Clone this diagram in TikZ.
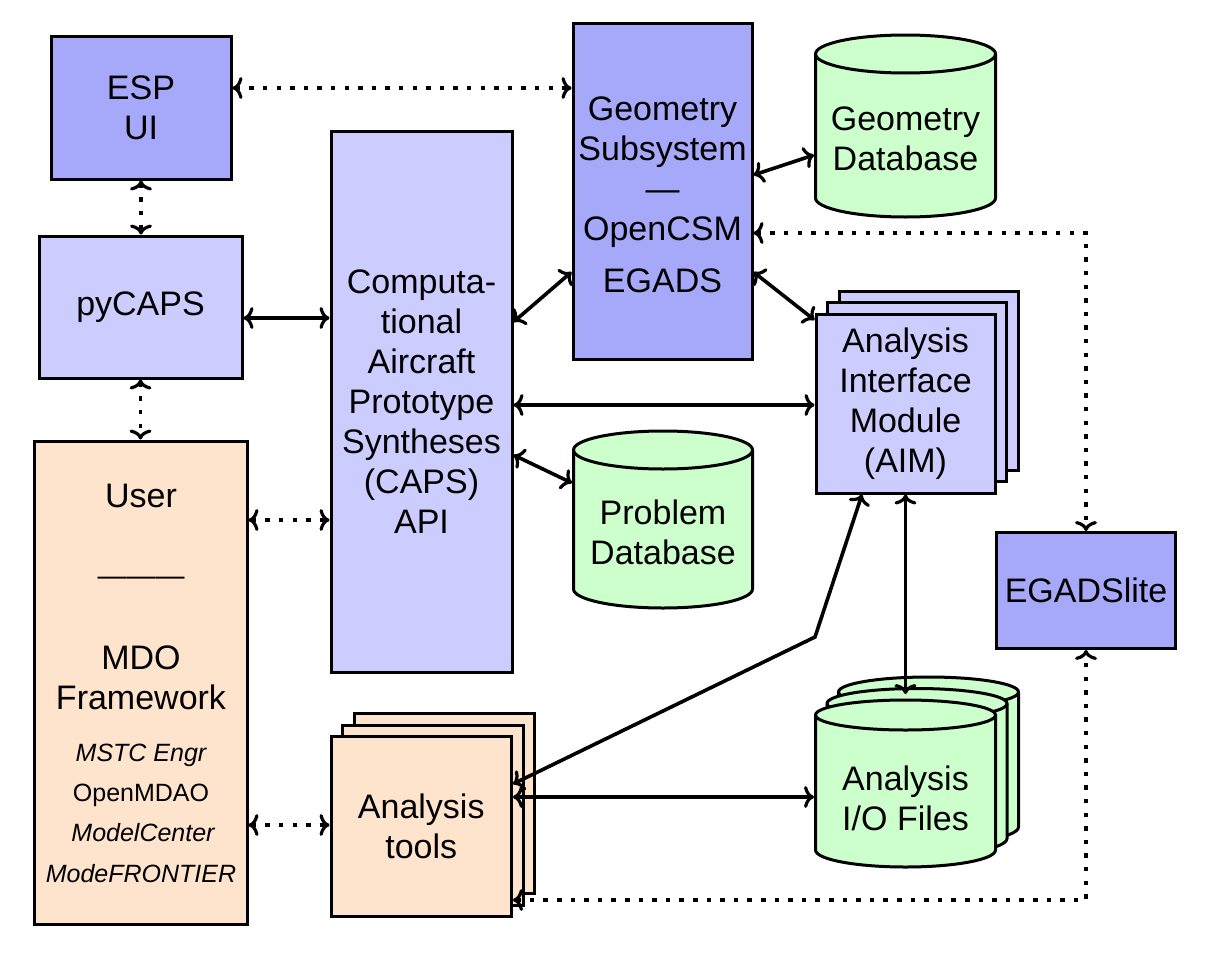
\documentclass[tikz,border=0pt]{standalone}
\usepackage{fontspec}
\setmainfont{Liberation Sans}
\usetikzlibrary{arrows.meta}
\definecolor{dblue}{RGB}{166,168,250}
\definecolor{lblue}{RGB}{204,204,255}
\definecolor{lorange}{RGB}{254,228,204}
\definecolor{lgreen}{RGB}{204,255,204}
\newcommand{\mycyl}[6]{%
  \pgfmathsetmacro\myrx{(#2-#1)/2}%
  \filldraw[line width=3pt, fill=lgreen] (#1,#3) -- (#1,#4)
    arc[start angle=180,end angle=360,x radius=\myrx pt,y radius=#6pt] -- (#2,#3)
    arc[start angle=0,end angle=180,x radius=\myrx pt,y radius=#5pt] -- cycle;
  \draw[line width=3pt] (#1,#3) arc[start angle=180,end angle=360,x radius=\myrx pt,y radius=#5pt];
}
\begin{document}
\begin{tikzpicture}[x=1pt,y=-1pt,
  every node/.style={font=\fontsize{34}{40}\selectfont, align=center, inner sep=0pt},
  box/.style={draw, line width=3pt},
  cyltext/.style={minimum width=180pt, minimum height=100pt, outer sep=1.5pt},
  small/.style={font=\fontsize{25}{30}\selectfont},
  smallit/.style={font=\fontsize{25}{30}\selectfont\itshape},
  sarr/.style={line width=3.6pt, >={Computer Modern Rightarrow[length=10pt,width=22pt,line width=3.2pt]}, <->},
  darr/.style={sarr, dash pattern=on 4.5pt off 9.1pt}
]
\useasboundingbox (0,0) rectangle (1207,953);

% left column
\node[box, fill=dblue, minimum width=180pt, minimum height=143pt] (esp) at (141,107.5) {ESP\\UI};
\node[box, fill=lblue, minimum width=203pt, minimum height=142pt] (pycaps) at (140.5,307) {pyCAPS};
\node[box, fill=lorange, minimum width=213pt, minimum height=483pt] (user) at (140.5,682.5) {};
\node[anchor=base] (ut1) at (141,507) {User};
\node[anchor=base, font=\fontsize{29}{35}\selectfont] (ut2) at (141,585) {———};
\node[anchor=base] (ut3) at (141,669) {MDO};
\node[anchor=base] (ut4) at (141,709) {Framework};
\node[anchor=base, smallit] (ut5) at (141,761) {MSTC Engr};
\node[anchor=base, small] (ut6) at (141,801) {OpenMDAO};
\node[anchor=base, smallit] (ut7) at (143,841) {ModelCenter};
\node[anchor=base, smallit] (ut8) at (141,882) {ModeFRONTIER};

% CAPS API
\node[box, fill=lblue, minimum width=181pt, minimum height=541pt] (caps) at (421.5,401.5)
  {Computa-\\tional\\Aircraft\\Prototype\\Syntheses\\(CAPS)\\API};

% Geometry subsystem
\node[box, fill=dblue, minimum width=179pt, minimum height=336pt] (geom) at (662.5,191)
  {\rule{0pt}{0pt}\\[-9pt]Geometry\\Subsystem\\—\\OpenCSM\\[12pt]EGADS};

% Geometry database
\mycyl{815.5}{995.5}{54}{198}{19}{19}
\node[cyltext] (gdb) at (905.5,139) {Geometry\\Database};

% AIM stack
\filldraw[box, fill=lblue] (839,291) rectangle (1018,470);
\filldraw[box, fill=lblue] (827.5,302.5) rectangle (1006.5,481.5);
\node[box, fill=lblue, minimum width=179pt, minimum height=179pt] (aim) at (905.5,403.5)
  {Analysis\\Interface\\Module\\(AIM)};

% Problem database
\mycyl{573.5}{752.5}{450}{589}{19}{19}
\node[cyltext, minimum width=179pt] (pdb) at (663,532) {Problem\\Database};

% EGADSlite
\node[box, fill=dblue, minimum width=179pt, minimum height=116pt] (egl) at (1086,590.5) {EGADSlite};

% Analysis tools stack
\filldraw[box, fill=lorange] (354,713.5) rectangle (534.5,893.5);
\filldraw[box, fill=lorange] (342.5,725) rectangle (523,905);
\node[box, fill=lorange, minimum width=180.5pt, minimum height=180pt] (tools) at (421.25,826.5)
  {Analysis\\tools};

% Analysis I/O files stack
\mycyl{838.5}{1018.5}{692}{827}{15}{17}
\mycyl{827}{1007}{703.5}{838.5}{15}{17}
\mycyl{815.5}{995.5}{715}{850}{15}{17}
\node[cyltext] (iof) at (905.5,798) {Analysis\\I/O Files};

% connectors
\coordinate (aimio) at (905.5,694);
\coordinate (bend) at (815,637);
\draw[darr] (esp.east |- 0,88) -- (geom.west |- 0,88);
\draw[darr] (esp.south) -- (esp.south |- pycaps.north);
\draw[sarr] (pycaps.east |- 0,318) -- (caps.west |- 0,318);
\draw[darr] (pycaps.south) -- (pycaps.south |- user.north);
\draw[darr] (user.east |- 0,520) -- (caps.west |- 0,520);
\draw[darr] (user.east |- 0,825) -- (tools.west |- 0,825);
\draw[sarr] (caps.east |- 0,322) -- (geom.west |- 0,272);
\draw[sarr] (geom.east |- 0,175) -- (gdb.west |- 0,155);
\draw[sarr] (geom.east |- 0,272) -- (aim.west |- 0,320);
\draw[sarr] (caps.east |- 0,405) -- (aim.west |- 0,405);
\draw[sarr] (caps.east |- 0,455) -- (pdb.west |- 0,483);
\draw[darr] (geom.east |- 0,233) -- (egl.north |- 0,233) -- (egl.north);
\draw[sarr] (aim.south) -- (aimio);
\draw[sarr] (aim.south -| 862,0) -- (bend) -- (tools.east |- 0,784);
\draw[sarr] (tools.east |- 0,797) -- (iof.west |- 0,797);
\draw[darr] (tools.east |- 0,900) -- (egl.south |- 0,900) -- (egl.south);
\end{tikzpicture}
\end{document}
